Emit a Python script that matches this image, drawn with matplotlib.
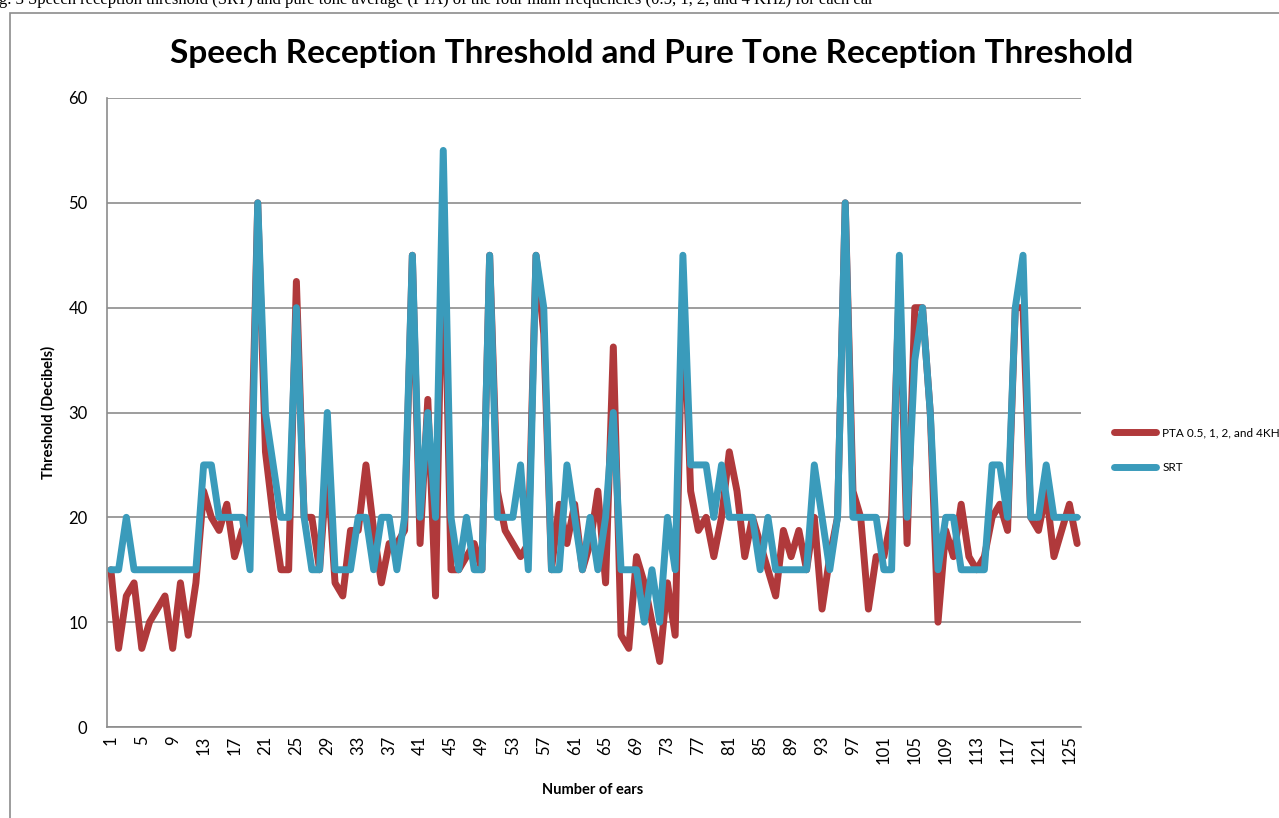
import matplotlib.pyplot as plt
import numpy as np
from matplotlib.patches import Rectangle

# values, one per ear (1..126)
EARS = np.arange(1, 127)
PTA = [
    15, 7.5, 12.5, 13.75, 7.5, 10, 11.25, 12.5, 7.5, 13.75,
    8.75, 13.75, 22.5, 20, 18.75, 21.25, 16.25, 18.75, 20, 50,
    26.25, 20, 15, 15, 42.5, 20, 20, 15, 25, 13.75,
    12.5, 18.75, 18.75, 25, 18.75, 13.75, 17.5, 17.5, 18.75, 45,
    17.5, 31.25, 12.5, 50, 15, 15, 16.25, 17.5, 15, 45,
    22.5, 18.75, 17.5, 16.25, 17.5, 45, 37.5, 15, 21.25, 17.5,
    21.25, 15, 17.5, 22.5, 13.75, 36.25, 8.75, 7.5, 16.25, 13.75,
    10, 6.25, 13.75, 8.75, 42.5, 22.5, 18.75, 20, 16.25, 20,
    26.25, 22.5, 16.25, 20, 17.5, 15, 12.5, 18.75, 16.25, 18.75,
    15, 20, 11.25, 16.25, 20, 50, 22.5, 20, 11.25, 16.25,
    16.25, 20, 42.5, 17.5, 40, 40, 30, 10, 18.75, 16.25,
    21.25, 16.25, 15, 16.25, 20, 21.25, 18.75, 40, 40, 20,
    18.75, 22.5, 16.25, 18.75, 21.25, 17.5,
]
SRT = [
    15, 15, 20, 15, 15, 15, 15, 15, 15, 15,
    15, 15, 25, 25, 20, 20, 20, 20, 15, 50,
    30, 25, 20, 20, 40, 20, 15, 15, 30, 15,
    15, 15, 20, 20, 15, 20, 20, 15, 20, 45,
    20, 30, 20, 55, 20, 15, 20, 15, 15, 45,
    20, 20, 20, 25, 15, 45, 40, 15, 15, 25,
    20, 15, 20, 15, 20, 30, 15, 15, 15, 10,
    15, 10, 20, 15, 45, 25, 25, 25, 20, 25,
    20, 20, 20, 20, 15, 20, 15, 15, 15, 15,
    15, 25, 20, 15, 20, 50, 20, 20, 20, 20,
    15, 15, 45, 20, 35, 40, 30, 15, 20, 20,
    15, 15, 15, 15, 25, 25, 20, 40, 45, 20,
    20, 25, 20, 20, 20, 20,
]
Y_TICKS = [0, 10, 20, 30, 40, 50, 60]
X_TICKS = list(range(1, 126, 4))

RED = "#B0393B"
BLUE = "#3A9BBB"
GRID = "#8C8C8C"

plt.rcParams["font.family"] = ["Lato", "DejaVu Sans"]

fig = plt.figure(figsize=(12.79, 8.18), dpi=100)

# caption of the page, mostly cut off at the top edge (as in the source)
fig.text(-0.012, 1 - 4 / 818, "Fig. 3 Speech reception threshold (SRT) and pure tone average (PTA) "
         "of the four main frequencies (0.5, 1, 2, and 4 KHz) for each ear",
         family="Liberation Serif", fontsize=12, va="baseline", ha="left")

# outer chart border running off the right and bottom edges
fig.patches.append(Rectangle((10 / 1279, -0.05), 1.2, 1 - 13 / 818 + 0.05,
                             transform=fig.transFigure, fill=False,
                             edgecolor=GRID, linewidth=1.2))

ax = fig.add_axes([107 / 1279, 1 - 727 / 818, (1081 - 107) / 1279, (727 - 98) / 818])
ax.plot(EARS, PTA, color=RED, linewidth=5, solid_joinstyle="round",
        solid_capstyle="round", label="PTA 0.5, 1, 2, and 4KHz")
ax.plot(EARS, SRT, color=BLUE, linewidth=5, solid_joinstyle="round",
        solid_capstyle="round", label="SRT")

ax.set_xlim(0.5, 126.5)
ax.set_ylim(0, 60)
ax.set_yticks(Y_TICKS)
ax.set_xticks(X_TICKS)
ax.set_xticklabels([str(t) for t in X_TICKS], rotation=90)
ax.tick_params(axis="both", length=0, labelsize=12, colors="black")
ax.tick_params(axis="y", pad=14)
ax.tick_params(axis="x", pad=6)
ax.grid(axis="y", color=GRID, linewidth=1.2)
ax.set_axisbelow(True)
for side in ("top", "right"):
    ax.spines[side].set_visible(False)
for side in ("left", "bottom"):
    ax.spines[side].set_color(GRID)
    ax.spines[side].set_linewidth(1.2)

fig.text(652 / 1279, 1 - 53 / 818, "Speech Reception Threshold and Pure Tone Reception Threshold",
         fontsize=24, fontweight="bold", ha="center", va="center")
fig.text(593 / 1279, 1 - 790 / 818, "Number of ears", fontsize=10.5,
         fontweight="bold", ha="center", va="center")
fig.text(48 / 1279, 1 - 412 / 818, "Threshold (Decibels)", fontsize=10.5,
         fontweight="bold", ha="center", va="center", rotation=90)

ax.legend(loc="center left", bbox_to_anchor=(1108 / 1279, 1 - 450 / 818),
          bbox_transform=fig.transFigure, frameon=False, fontsize=8.5,
          handlelength=3.6, handletextpad=0.5, labelspacing=2.0, borderpad=0)

fig.savefig("out.png", dpi=100)
